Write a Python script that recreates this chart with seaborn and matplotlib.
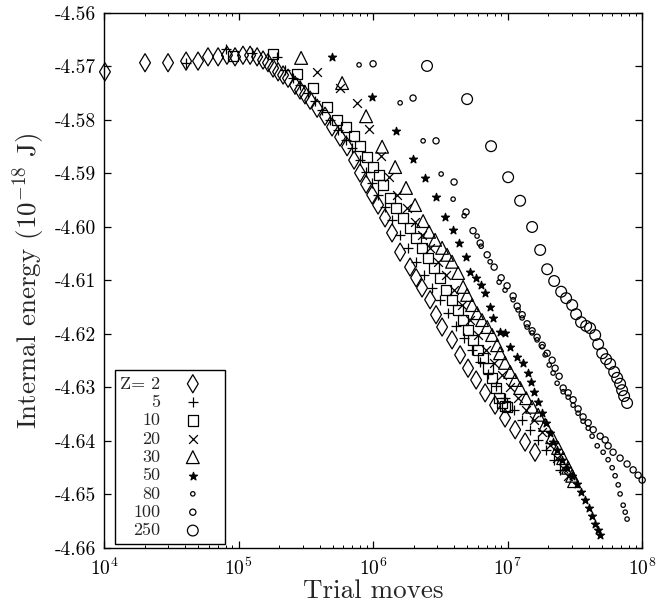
import numpy as np
import pandas as pd
import matplotlib
matplotlib.use("Agg")
import matplotlib.pyplot as plt
from matplotlib.ticker import FormatStrFormatter, MultipleLocator, LogLocator, NullFormatter
import seaborn as sns

# values: log10(trial moves) and internal energy (1e-18 J)
z2_logx = [4.007, 4.305, 4.476, 4.610, 4.699, 4.773, 4.848, 4.914, 4.974, 5.033,
           5.086, 5.138, 5.182, 5.219, 5.257, 5.294, 5.331, 5.368, 5.420, 5.457,
           5.494, 5.532, 5.584, 5.643, 5.695, 5.755, 5.807, 5.859, 5.903, 5.948,
           5.993, 6.037, 6.089, 6.141, 6.201, 6.275, 6.320, 6.364, 6.424, 6.468,
           6.513, 6.587, 6.647, 6.706, 6.766, 6.833, 6.907, 6.981, 7.056, 7.130, 7.204]
z2_e = [-4.5710, -4.5693, -4.5693, -4.5690, -4.5690, -4.5682, -4.5682, -4.5679, -4.5682, -4.5679,
        -4.5679, -4.5682, -4.5688, -4.5693, -4.5703, -4.5710, -4.5716, -4.5722, -4.5735, -4.5744,
        -4.5753, -4.5763, -4.5778, -4.5793, -4.5813, -4.5832, -4.5850, -4.5875, -4.5899, -4.5920,
        -4.5940, -4.5959, -4.5983, -4.6011, -4.6047, -4.6075, -4.6095, -4.6114, -4.6136, -4.6164,
        -4.6187, -4.6211, -4.6239, -4.6264, -4.6286, -4.6310, -4.6333, -4.6357, -4.6379, -4.6402, -4.6421]

z5_logx = [4.610, 4.907, 5.100, 5.286, 5.346, 5.405, 5.457, 5.517, 5.569, 5.621,
           5.680, 5.740, 5.799, 5.844, 5.903, 5.948, 5.993, 6.037, 6.089, 6.141,
           6.201, 6.260, 6.320, 6.379, 6.439, 6.498, 6.558, 6.617, 6.677, 6.736,
           6.796, 6.855, 6.914, 6.981, 7.048, 7.108, 7.167, 7.227, 7.286, 7.346, 7.390]
z5_e = [-4.5693, -4.5667, -4.5675, -4.5682, -4.5707, -4.5722, -4.5735, -4.5750, -4.5764, -4.5781,
        -4.5800, -4.5819, -4.5837, -4.5852, -4.5875, -4.5897, -4.5918, -4.5940, -4.5963, -4.5987,
        -4.6015, -4.6039, -4.6065, -4.6090, -4.6114, -4.6136, -4.6161, -4.6185, -4.6207, -4.6230,
        -4.6252, -4.6275, -4.6297, -4.6320, -4.6342, -4.6361, -4.6379, -4.6398, -4.6417, -4.6435, -4.6454]

z10_logx = [4.959, 5.257, 5.435, 5.554, 5.658, 5.732, 5.799, 5.859, 5.903, 5.955,
            6.000, 6.045, 6.074, 6.126, 6.171, 6.223, 6.275, 6.320, 6.364, 6.409,
            6.454, 6.498, 6.543, 6.587, 6.632, 6.669, 6.706, 6.743, 6.781, 6.818,
            6.855, 6.885, 6.914, 6.937, 6.959, 6.981, 6.996]
z10_e = [-4.5680, -4.5677, -4.5714, -4.5740, -4.5776, -4.5800, -4.5813, -4.5830, -4.5849, -4.5869,
         -4.5888, -4.5903, -4.5921, -4.5946, -4.5964, -4.5983, -4.6002, -4.6021, -4.6039, -4.6058,
         -4.6077, -4.6095, -4.6118, -4.6136, -4.6155, -4.6174, -4.6193, -4.6211, -4.6230, -4.6245,
         -4.6264, -4.6282, -4.6301, -4.6320, -4.6329, -4.6335, -4.6336]

z20_logx = [5.584, 5.755, 5.881, 5.970, 6.059, 6.119, 6.178, 6.253, 6.312, 6.364,
            6.424, 6.483, 6.543, 6.602, 6.662, 6.721, 6.781, 6.840, 6.900, 6.959,
            7.019, 7.078, 7.138, 7.197, 7.257, 7.316, 7.368, 7.413, 7.450]
z20_e = [-4.5710, -4.5740, -4.5768, -4.5817, -4.5867, -4.5907, -4.5940, -4.5964, -4.5991, -4.6015,
         -4.6039, -4.6065, -4.6090, -4.6118, -4.6146, -4.6174, -4.6202, -4.6230, -4.6254, -4.6277,
         -4.6299, -4.6320, -4.6342, -4.6361, -4.6383, -4.6407, -4.6432, -4.6450, -4.6465]

z30_logx = [5.465, 5.770, 5.948, 6.067, 6.164, 6.245, 6.312, 6.372, 6.416, 6.461,
            6.513, 6.550, 6.587, 6.632, 6.669, 6.699, 6.736, 6.773, 6.810, 6.848,
            6.885, 6.922, 6.944, 6.981, 7.019, 7.056, 7.093, 7.138, 7.182, 7.227,
            7.279, 7.331, 7.375, 7.413, 7.450, 7.480, 7.494]
z30_e = [-4.5684, -4.5731, -4.5793, -4.5850, -4.5888, -4.5927, -4.5959, -4.5989, -4.6009, -4.6024,
         -4.6039, -4.6052, -4.6065, -4.6086, -4.6112, -4.6127, -4.6146, -4.6161, -4.6174, -4.6187,
         -4.6202, -4.6221, -4.6236, -4.6254, -4.6271, -4.6286, -4.6301, -4.6320, -4.6336, -4.6351,
         -4.6370, -4.6393, -4.6413, -4.6432, -4.6450, -4.6465, -4.6475]

z50_logx = [5.695, 5.993, 6.171, 6.297, 6.387, 6.468, 6.535, 6.595, 6.639, 6.691,
            6.721, 6.766, 6.803, 6.833, 6.870, 6.892, 6.944, 6.981, 7.019, 7.071,
            7.115, 7.152, 7.175, 7.197, 7.227, 7.257, 7.286, 7.316, 7.338, 7.368,
            7.405, 7.442, 7.480, 7.517, 7.546, 7.576, 7.606, 7.628, 7.651, 7.673, 7.688]
z50_e = [-4.5682, -4.5757, -4.5821, -4.5873, -4.5908, -4.5944, -4.5981, -4.6006, -4.6030, -4.6056,
         -4.6084, -4.6095, -4.6108, -4.6123, -4.6150, -4.6170, -4.6196, -4.6198, -4.6224, -4.6243,
         -4.6254, -4.6273, -4.6290, -4.6308, -4.6327, -4.6348, -4.6366, -4.6385, -4.6402, -4.6417,
         -4.6435, -4.6450, -4.6465, -4.6480, -4.6495, -4.6510, -4.6525, -4.6540, -4.6555, -4.6566, -4.6576]

z80_logx = [5.896, 6.201, 6.372, 6.506, 6.595, 6.677, 6.773, 6.803, 6.870, 6.937,
            6.981, 7.041, 7.078, 7.108, 7.145, 7.182, 7.219, 7.257, 7.279, 7.309,
            7.338, 7.368, 7.413, 7.450, 7.487, 7.524, 7.561, 7.599, 7.628, 7.666,
            7.710, 7.747, 7.777, 7.799, 7.822, 7.836, 7.859, 7.874, 7.888]
z80_e = [-4.5697, -4.5768, -4.5839, -4.5901, -4.5948, -4.5979, -4.6017, -4.6036, -4.6065, -4.6103,
         -4.6118, -4.6136, -4.6155, -4.6170, -4.6187, -4.6198, -4.6211, -4.6224, -4.6239, -4.6258,
         -4.6273, -4.6292, -4.6308, -4.6318, -4.6333, -4.6348, -4.6363, -4.6376, -4.6391, -4.6409,
         -4.6421, -4.6435, -4.6450, -4.6465, -4.6482, -4.6499, -4.6520, -4.6533, -4.6546]

z100_logx = [6.000, 6.297, 6.468, 6.602, 6.691, 6.743, 6.796, 6.848, 6.900, 6.952,
             6.996, 7.041, 7.071, 7.108, 7.145, 7.182, 7.219, 7.257, 7.294, 7.331,
             7.353, 7.383, 7.413, 7.450, 7.487, 7.524, 7.561, 7.599, 7.636, 7.688,
             7.725, 7.747, 7.784, 7.836, 7.888, 7.933, 7.970, 8.000]
z100_e = [-4.5695, -4.5759, -4.5839, -4.5916, -4.5972, -4.6007, -4.6030, -4.6052, -4.6075, -4.6095,
          -4.6110, -4.6129, -4.6148, -4.6164, -4.6181, -4.6194, -4.6206, -4.6221, -4.6236, -4.6249,
          -4.6264, -4.6279, -4.6301, -4.6310, -4.6323, -4.6340, -4.6355, -4.6366, -4.6379, -4.6391,
          -4.6398, -4.6409, -4.6421, -4.6432, -4.6443, -4.6454, -4.6464, -4.6473]

z250_logx = [6.401, 6.699, 6.877, 7.004, 7.093, 7.182, 7.242, 7.294, 7.346, 7.398,
             7.435, 7.480, 7.509, 7.546, 7.584, 7.613, 7.651, 7.673, 7.703, 7.732,
             7.762, 7.792, 7.814, 7.836, 7.851, 7.866, 7.888]
z250_e = [-4.5699, -4.5761, -4.5849, -4.5907, -4.5951, -4.6000, -4.6043, -4.6079, -4.6101, -4.6121,
          -4.6133, -4.6146, -4.6163, -4.6178, -4.6185, -4.6189, -4.6202, -4.6219, -4.6236, -4.6247,
          -4.6256, -4.6271, -4.6282, -4.6293, -4.6305, -4.6316, -4.6329]

labels = ["Z= 2", "5", "10", "20", "30", "50", "80", "100", "250"]
series = [(z2_logx, z2_e), (z5_logx, z5_e), (z10_logx, z10_e), (z20_logx, z20_e),
          (z30_logx, z30_e), (z50_logx, z50_e), (z80_logx, z80_e),
          (z100_logx, z100_e), (z250_logx, z250_e)]

# marker, size (pt^2), hollow?
styles = [("d", 85, True), ("+", 50, False), ("s", 55, True), ("x", 40, False),
          ("^", 85, True), ("*", 36, False), ("o", 10, True), ("o", 20, True),
          ("o", 60, True)]

sns.set_style("ticks")
plt.rcParams.update({
    "font.family": "serif",
    "font.serif": ["cmr10"],
    "mathtext.fontset": "cm",
    "axes.formatter.use_mathtext": True,
    "axes.linewidth": 1.0,
    "axes.edgecolor": "black",
})

fig = plt.figure(figsize=(6.71, 6.12), dpi=100)
ax = fig.add_axes([0.155, 0.1046, 0.802, 0.8742])

for lab, (lx, e), (mk, s, hollow) in zip(labels, series, styles):
    df = pd.DataFrame({"moves": 10 ** np.array(lx), "energy": e})
    if hollow:
        sns.scatterplot(data=df, x="moves", y="energy", ax=ax, marker=mk, s=s,
                        facecolor="none", edgecolor="black", linewidth=0.9,
                        label=lab, clip_on=False, zorder=3)
    else:
        sns.scatterplot(data=df, x="moves", y="energy", ax=ax, marker=mk, s=s,
                        color="black", linewidth=0.9, edgecolor="black",
                        label=lab, clip_on=False, zorder=3)

ax.set_xscale("log")
ax.set_xlim(1e4, 1e8)
ax.set_ylim(-4.66, -4.56)
ax.yaxis.set_major_locator(MultipleLocator(0.01))
ax.yaxis.set_major_formatter(FormatStrFormatter("%.2f"))
ax.xaxis.set_major_locator(LogLocator(base=10, numticks=10))
ax.xaxis.set_minor_locator(LogLocator(base=10, subs=np.arange(2, 10), numticks=20))
ax.xaxis.set_minor_formatter(NullFormatter())
ax.tick_params(which="both", direction="in", top=True, right=True, colors="black",
               labelsize=14)
ax.tick_params(which="major", length=5, width=0.9)
ax.tick_params(which="minor", length=2.5, width=0.7)
ax.tick_params(axis="y", pad=6)
ax.tick_params(axis="x", pad=7)

ax.set_xlabel("Trial moves", fontsize=19.5, labelpad=0)
ax.set_ylabel("Internal energy (10$^{-18}$ J)", fontsize=19.5, labelpad=5)

# markerfirst=False right-aligns the rows, so the numbers line up on the right
leg = ax.legend(loc="lower left", bbox_to_anchor=(0.02, 0.008), borderaxespad=0,
                markerfirst=False, fontsize=13, labelspacing=0.15, handlelength=3.0,
                handletextpad=0.3, borderpad=0.3, fancybox=False, framealpha=1,
                edgecolor="black", scatterpoints=1)
leg.get_frame().set_linewidth(1.0)

fig.savefig("out.png", dpi=100)
